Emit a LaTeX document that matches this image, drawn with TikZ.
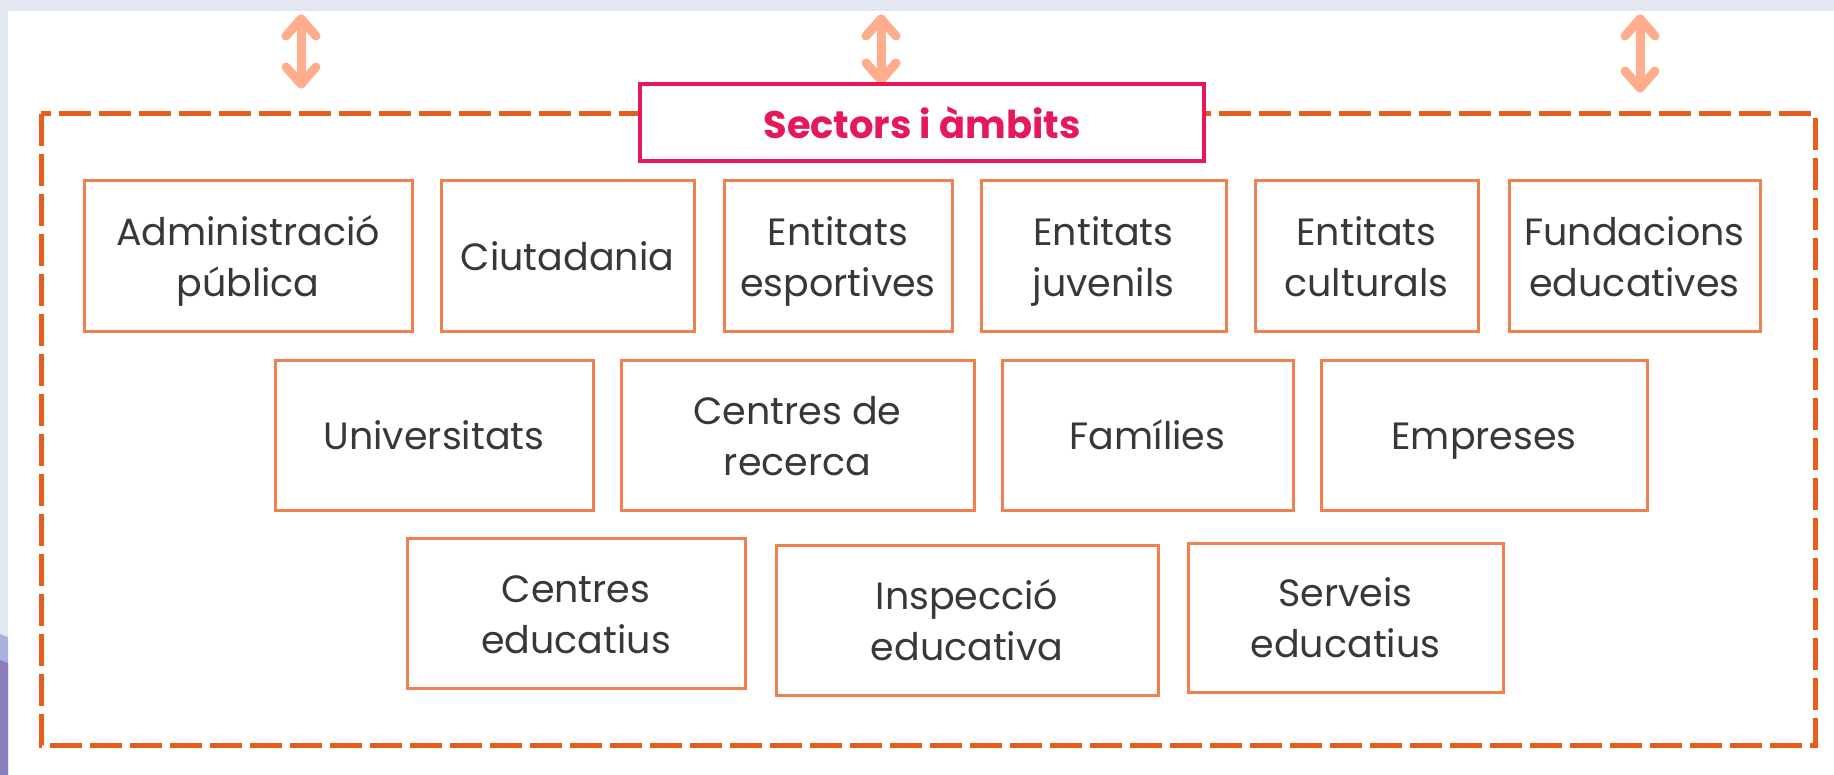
\documentclass[tikz,border=0pt]{standalone}
\usepackage{fontspec}
\setmainfont{Poppins}
\usetikzlibrary{calc}
\definecolor{bgblue}{HTML}{E3E7F2}
\definecolor{lpurp}{HTML}{A9B2DE}
\definecolor{dpurp}{HTML}{8C7DBD}
\definecolor{dashor}{HTML}{E65F1E}
\definecolor{boxor}{HTML}{F0804E}
\definecolor{arrsal}{HTML}{FFAD8C}
\definecolor{crim}{HTML}{E5195A}
\definecolor{txt}{HTML}{383838}
\tikzset{
  cbox/.style={draw=boxor, line width=1.5pt, fill=white, align=center, text=txt,
    font=\fontsize{19}{25.5}\selectfont, inner sep=0pt},
  titlebox/.style={draw=crim, line width=2pt, fill=white, text=crim,
    font=\fontsize{19.2}{22}\selectfont\bfseries, inner sep=0pt},
  frame/.style={draw=dashor, line width=2.5pt, dash pattern=on 16pt off 4pt},
  dblarrow/.style={draw=arrsal, line width=4.5pt, line cap=round, line join=round}
}
\newcommand\mytopstrut{\rule{0pt}{22.6pt}}
\newcommand\bx[6]{\node[cbox, minimum width={(#4-#2)*0.5pt}, minimum height={(#5-#3)*0.5pt}] (#1) at ({(#2+#4)/2},{(#3+#5)/2}) {\mytopstrut #6\strut};}
\newcommand\darr[4]{%
  \coordinate (#1t) at (#2,#3);
  \coordinate (#1b) at (#2,#4);
  \draw[dblarrow] (#1t) -- (#1b);
  \draw[dblarrow] ($(#1t)+(-15,17)$) -- (#1t) -- ($(#1t)+(15,17)$);
  \draw[dblarrow] ($(#1b)+(-15,-17)$) -- (#1b) -- ($(#1b)+(15,-17)$);
}
\begin{document}
\begin{tikzpicture}[x=0.5pt,y=-0.5pt]
\useasboundingbox (0,0) rectangle (1834,775);
\fill[bgblue] (0,0) rectangle (1834,775);
\fill[white] (8,11) rectangle (1834,775);
\fill[lpurp] (0,634) -- (8,637) -- (8,775) -- (0,775) -- cycle;
\fill[dpurp] (0,660) -- (8,663) -- (8,775) -- (0,775) -- cycle;
% dashed frame
\draw[frame] (41,114) rectangle (1815,745);
% arrows
\darr{a1}{301}{19}{84}
\darr{a2}{881}{19}{80}
\darr{a3}{1640}{19}{88}
% title
\node[titlebox, minimum width={(1204-640)*0.5pt}, minimum height={(161-84)*0.5pt}] (title) at ({(640+1204)/2},{(84+161)/2}) {Sectors i àmbits};
% row 1
\bx{adm}{84}{181}{412}{331}{Administració\\pública}
\bx{ciu}{441}{181}{694}{331}{Ciutadania}
\bx{esp}{724}{181}{952}{331}{Entitats\\esportives}
\bx{juv}{981}{181}{1226}{331}{Entitats\\juvenils}
\bx{cul}{1255}{181}{1478}{331}{Entitats\\culturals}
\bx{fun}{1509}{181}{1760}{331}{Fundacions\\educatives}
% row 2
\bx{uni}{275}{360}{593}{510}{Universitats}
\bx{rec}{621}{360}{974}{510}{Centres de\\recerca}
\bx{fam}{1002}{360}{1293}{510}{Famílies}
\bx{emp}{1321}{360}{1647}{510}{Empreses}
% row 3
\bx{ced}{407}{538}{745}{688}{Centres\\educatius}
\bx{ins}{776}{545}{1158}{695}{Inspecció\\educativa}
\bx{ser}{1188}{543}{1503}{692}{Serveis\\educatius}
\end{tikzpicture}
\end{document}
